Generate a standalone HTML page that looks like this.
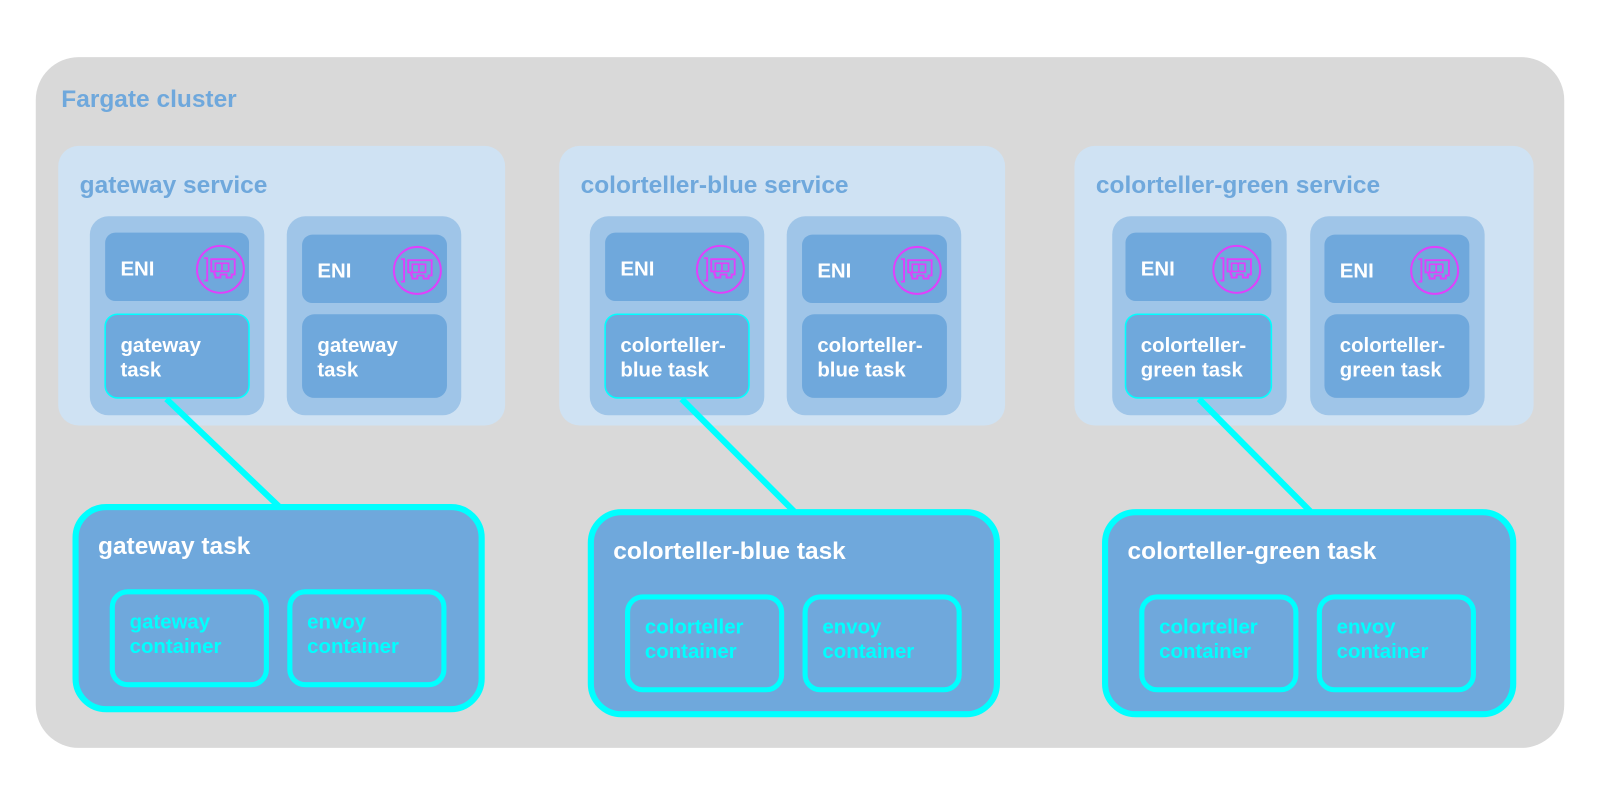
<!DOCTYPE html>
<html><head><meta charset="utf-8"><style>html,body{margin:0;padding:0;background:#fff}svg{display:block}text{font-family:"Liberation Sans",sans-serif;font-weight:bold}</style></head>
<body>
<svg width="1600" height="803" viewBox="0 0 1568 787" xmlns="http://www.w3.org/2000/svg">
<defs>
<g id="icon">
<circle cx="0" cy="0" r="23" fill="none" stroke="#e040fb" stroke-width="2"/>
<path d="M-16,-11 h3 v22 h-3" fill="none" stroke="#e040fb" stroke-width="1.8"/>
<path d="M-9,-10 h23 v15 h-3 v3 h-5 v-3 h-6 v3 h-5 v-3 h-1 v-3 h-3 z" fill="none" stroke="#e040fb" stroke-width="1.8"/>
<rect x="-5" y="-6" width="13" height="8" fill="none" stroke="#e040fb" stroke-width="1.6"/>
<line x1="1.5" y1="-6" x2="1.5" y2="2" stroke="#e040fb" stroke-width="1.6"/>
</g>
</defs>
<rect x="35" y="56" width="1498" height="677" rx="42" fill="#d9d9d9"/>
<text x="60" y="105" font-size="24" fill="#6fa8dc">Fargate cluster</text>

<rect x="57" y="143" width="438" height="274" rx="20" fill="#cfe2f3"/>
<rect x="548" y="143" width="437" height="274" rx="20" fill="#cfe2f3"/>
<rect x="1053" y="143" width="450" height="274" rx="20" fill="#cfe2f3"/>
<text x="78" y="189" font-size="24" fill="#6fa8dc">gateway service</text>
<text x="569" y="189" font-size="24" fill="#6fa8dc">colorteller-blue service</text>
<text x="1074" y="189" font-size="24" fill="#6fa8dc">colorteller-green service</text>

<g>
<rect x="88" y="212" width="171" height="195" rx="18" fill="#9fc5e8"/>
<rect x="281" y="212" width="171" height="195" rx="18" fill="#9fc5e8"/>
<rect x="103" y="228" width="141" height="67" rx="10" fill="#6fa8dc"/>
<rect x="296" y="230" width="142" height="67" rx="10" fill="#6fa8dc"/>
<rect x="103" y="308" width="141" height="82" rx="12" fill="#6fa8dc" stroke="#00ffff" stroke-width="1.5"/>
<rect x="296" y="308" width="142" height="82" rx="12" fill="#6fa8dc"/>
<use href="#icon" x="216" y="264"/><use href="#icon" x="409" y="265"/>
<text x="118" y="270" font-size="20" fill="#fff">ENI</text>
<text x="311" y="272" font-size="20" fill="#fff">ENI</text>
<text x="118" y="345" font-size="20" fill="#fff">gateway</text><text x="118" y="369" font-size="20" fill="#fff">task</text>
<text x="311" y="345" font-size="20" fill="#fff">gateway</text><text x="311" y="369" font-size="20" fill="#fff">task</text>
</g>
<g transform="translate(490,0)">
<rect x="88" y="212" width="171" height="195" rx="18" fill="#9fc5e8"/>
<rect x="281" y="212" width="171" height="195" rx="18" fill="#9fc5e8"/>
<rect x="103" y="228" width="141" height="67" rx="10" fill="#6fa8dc"/>
<rect x="296" y="230" width="142" height="67" rx="10" fill="#6fa8dc"/>
<rect x="103" y="308" width="141" height="82" rx="12" fill="#6fa8dc" stroke="#00ffff" stroke-width="1.5"/>
<rect x="296" y="308" width="142" height="82" rx="12" fill="#6fa8dc"/>
<use href="#icon" x="216" y="264"/><use href="#icon" x="409" y="265"/>
<text x="118" y="270" font-size="20" fill="#fff">ENI</text>
<text x="311" y="272" font-size="20" fill="#fff">ENI</text>
<text x="118" y="345" font-size="20" fill="#fff">colorteller-</text><text x="118" y="369" font-size="20" fill="#fff">blue task</text>
<text x="311" y="345" font-size="20" fill="#fff">colorteller-</text><text x="311" y="369" font-size="20" fill="#fff">blue task</text>
</g>
<g transform="translate(1002,0)">
<rect x="88" y="212" width="171" height="195" rx="18" fill="#9fc5e8"/>
<rect x="282" y="212" width="171" height="195" rx="18" fill="#9fc5e8"/>
<rect x="101" y="228" width="143" height="67" rx="10" fill="#6fa8dc"/>
<rect x="296" y="230" width="142" height="67" rx="10" fill="#6fa8dc"/>
<rect x="101" y="308" width="143" height="82" rx="12" fill="#6fa8dc" stroke="#00ffff" stroke-width="1.5"/>
<rect x="296" y="308" width="142" height="82" rx="12" fill="#6fa8dc"/>
<use href="#icon" x="210" y="264"/><use href="#icon" x="404" y="265"/>
<text x="116" y="270" font-size="20" fill="#fff">ENI</text>
<text x="311" y="272" font-size="20" fill="#fff">ENI</text>
<text x="116" y="345" font-size="20" fill="#fff">colorteller-</text><text x="116" y="369" font-size="20" fill="#fff">green task</text>
<text x="311" y="345" font-size="20" fill="#fff">colorteller-</text><text x="311" y="369" font-size="20" fill="#fff">green task</text>
</g>

<line x1="163" y1="391" x2="273" y2="496" stroke="#00ffff" stroke-width="6"/>
<line x1="668" y1="391" x2="778" y2="501" stroke="#00ffff" stroke-width="6"/>
<line x1="1175" y1="391" x2="1284" y2="501" stroke="#00ffff" stroke-width="6"/>

<g>
<rect x="74" y="497" width="398" height="198" rx="30" fill="#6fa8dc" stroke="#00ffff" stroke-width="6"/>
<text x="96" y="543" font-size="24" fill="#fff">gateway task</text>
<rect x="110" y="580" width="151" height="91" rx="15" fill="#6fa8dc" stroke="#00ffff" stroke-width="5"/>
<rect x="284" y="580" width="151" height="91" rx="15" fill="#6fa8dc" stroke="#00ffff" stroke-width="5"/>
<text x="127" y="616" font-size="20" fill="#00ffff">gateway</text><text x="127" y="640" font-size="20" fill="#00ffff">container</text>
<text x="301" y="616" font-size="20" fill="#00ffff">envoy</text><text x="301" y="640" font-size="20" fill="#00ffff">container</text>
</g>
<g transform="translate(505,5)">
<rect x="74" y="497" width="398" height="198" rx="30" fill="#6fa8dc" stroke="#00ffff" stroke-width="6"/>
<text x="96" y="543" font-size="24" fill="#fff">colorteller-blue task</text>
<rect x="110" y="580" width="151" height="91" rx="15" fill="#6fa8dc" stroke="#00ffff" stroke-width="5"/>
<rect x="284" y="580" width="151" height="91" rx="15" fill="#6fa8dc" stroke="#00ffff" stroke-width="5"/>
<text x="127" y="616" font-size="20" fill="#00ffff">colorteller</text><text x="127" y="640" font-size="20" fill="#00ffff">container</text>
<text x="301" y="616" font-size="20" fill="#00ffff">envoy</text><text x="301" y="640" font-size="20" fill="#00ffff">container</text>
</g>
<g transform="translate(1009,5)">
<rect x="74" y="497" width="400" height="198" rx="30" fill="#6fa8dc" stroke="#00ffff" stroke-width="6"/>
<text x="96" y="543" font-size="24" fill="#fff">colorteller-green task</text>
<rect x="110" y="580" width="151" height="91" rx="15" fill="#6fa8dc" stroke="#00ffff" stroke-width="5"/>
<rect x="284" y="580" width="151" height="91" rx="15" fill="#6fa8dc" stroke="#00ffff" stroke-width="5"/>
<text x="127" y="616" font-size="20" fill="#00ffff">colorteller</text><text x="127" y="640" font-size="20" fill="#00ffff">container</text>
<text x="301" y="616" font-size="20" fill="#00ffff">envoy</text><text x="301" y="640" font-size="20" fill="#00ffff">container</text>
</g>
</svg>
</body></html>
